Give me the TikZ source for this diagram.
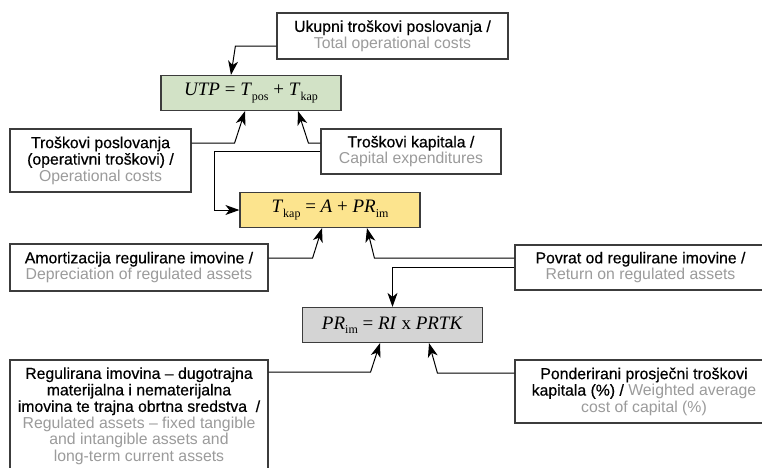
\documentclass[tikz,border=0pt]{standalone}
\usepackage{fontspec}
\setmainfont{Liberation Sans}
\newfontfamily\medfont{Liberation Sans}[FakeBold=0.5,Ligatures=TeX]
\newfontfamily\eqfont{Liberation Serif}
\usetikzlibrary{arrows.meta}
\definecolor{boxgreen}{HTML}{D2E2C6}
\definecolor{boxyellow}{HTML}{FCE48E}
\definecolor{boxgray}{HTML}{D4D4D4}
\definecolor{engray}{HTML}{9B9B9B}
\definecolor{edge}{HTML}{3C3C3C}
\newcommand{\en}[1]{{\normalfont\color{engray}#1}}
\newcommand{\sbs}[1]{\raisebox{-0.5ex}{\fontsize{12}{12}\selectfont #1}}

\begin{document}
\begin{tikzpicture}[x=1pt,y=-1pt,
  txtbox/.style={draw=edge,line width=1.2pt,fill=white,align=center,inner sep=0pt,
    font=\medfont\fontsize{15.8}{16.5}\selectfont,text=black},
  eqbox/.style={draw=edge,line width=1.2pt,inner sep=0pt,minimum width=180pt,
    minimum height=35pt,font=\eqfont\fontsize{19}{20}\selectfont},
  link/.style={line width=1pt,-{Stealth[length=14pt,width=10pt,inset=4pt]}}]
\useasboundingbox (0,0) rectangle (762,467);

\node[txtbox,minimum width=231pt,minimum height=46pt] (ukupni) at (392.5,36) {Ukupni troškovi poslovanja /\\ \en{Total operational costs}};
\node[eqbox,fill=boxgreen] (utp) at (251,93) {\textit{UTP} = \textit{T}\sbs{pos} + \textit{T}\sbs{kap}};
\node[txtbox,minimum width=181pt,minimum height=63pt] (posl) at (100.5,160.5) {Troškovi poslovanja\\ (operativni troškovi) /\\ \en{Operational costs}};
\node[txtbox,minimum width=180pt,minimum height=45pt] (kapit) at (411,151.5) {Troškovi kapitala /\\ \en{Capital expenditures}};
\node[eqbox,fill=boxyellow] (tkap) at (330,210) {\textit{T}\sbs{kap} = \textit{A} + \textit{PR}\sbs{im}};
\node[txtbox,minimum width=258pt,minimum height=47pt] (amort) at (139,267.5) {Amortizacija regulirane imovine /\\ \en{Depreciation of regulated assets}};
\node[txtbox,minimum width=251pt,minimum height=45pt] (povrat) at (640.5,267.5) {Povrat od regulirane imovine /\\ \en{Return on regulated assets}};
\node[eqbox,fill=boxgray] (prim) at (392.5,325) {\textit{PR}\sbs{im} = \textit{RI} x \textit{PRTK}};
\node[txtbox,minimum width=258pt,minimum height=112pt] (regul) at (139,416) {Regulirana imovina – dugotrajna\\ materijalna i nematerijalna\\ imovina te trajna obrtna sredstva\ \ /\\ \en{Regulated assets – fixed tangible}\\ \en{and intangible assets and}\\ \en{long-term current assets}};
\node[txtbox,minimum width=258pt,minimum height=63pt] (ponder) at (644,391.5) {Ponderirani prosječni troškovi\\ kapitala (\%) / \en{Weighted average}\\ \en{cost of capital (\%)}};

\draw[link] ([yshift=-10pt]ukupni.west) -- ++(-41,0) -- ([xshift=-20pt]utp.north);
\draw[link] ([yshift=17.5pt]posl.east) -- ++(43,0) -- ([xshift=-6pt]utp.south);
\draw[link] ([yshift=8.5pt]kapit.west) -- ++(-12,0) -- ([xshift=47pt]utp.south);
\draw[link] (kapit.west) -- ++(-106,0) |- (tkap.west);
\draw[link] ([yshift=9.5pt]amort.east) -- ++(44,0) -- ([xshift=-8pt]tkap.south);
\draw[link] ([yshift=9.5pt]povrat.west) -- ++(-140,0) -- ([xshift=37pt]tkap.south);
\draw[link] (povrat.west) -| (prim.north);
\draw[link] ([yshift=44pt]regul.east) -- ++(102,0) -- ([xshift=-12.5pt]prim.south);
\draw[link] ([yshift=18.5pt]ponder.west) -- ++(-77,0) -- ([xshift=36.5pt]prim.south);
\end{tikzpicture}
\end{document}
